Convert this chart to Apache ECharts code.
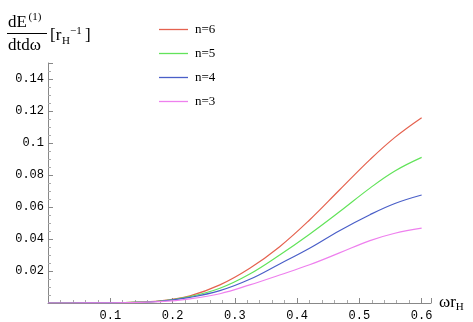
<!DOCTYPE html>
<html>
<head>
<meta charset="utf-8">
<script src="https://cdn.jsdelivr.net/npm/echarts@6/dist/echarts.min.js"></script>
<style>
  html, body { margin: 0; padding: 0; background: #fff; }
  #chart { width: 473px; height: 322px; }
</style>
</head>
<body>
<div id="chart"></div>
<script>
// omega * r_H sample points
var omega = [0, 0.036, 0.084, 0.132, 0.18, 0.228, 0.276, 0.324, 0.372, 0.42, 0.468, 0.517, 0.557, 0.6];
// dE/dtdw
var n6 = [0, 0, 0.0001, 0.0004, 0.0013, 0.0045, 0.0113, 0.0217, 0.0352, 0.0519, 0.0706, 0.0896, 0.1035, 0.1158];
var n5 = [0, 0, 0.0001, 0.0004, 0.0012, 0.004, 0.0092, 0.0181, 0.03, 0.043, 0.057, 0.0718, 0.0825, 0.091];
var n4 = [0, 0, 0.0001, 0.0003, 0.0011, 0.0035, 0.0077, 0.0148, 0.0244, 0.0342, 0.0452, 0.0552, 0.0622, 0.0675];
var n3 = [0, 0, 0.0001, 0.0002, 0.0008, 0.0026, 0.0058, 0.0113, 0.0175, 0.0239, 0.0313, 0.039, 0.0436, 0.0468];
var names = ['n=6', 'n=5', 'n=4', 'n=3'];
var colors = ['#e5624f', '#62e35a', '#4a5fc8', '#ee80ee'];

function pairs(ys) {
  var out = [];
  for (var i = 0; i < omega.length; i++) out.push([omega[i], ys[i]]);
  return out;
}

var allData = [n6, n5, n4, n3];
var series = [];
for (var k = 0; k < names.length; k++) {
  series.push({
    name: names[k],
    type: 'line',
    smooth: 0.4,
    symbol: 'none',
    data: pairs(allData[k]),
    lineStyle: { color: colors[k], width: 1.2 },
    itemStyle: { color: colors[k] }
  });
}

var mono = 'Liberation Mono';
var serif = 'Liberation Serif';

function txt(x, y, s, size) {
  return { type: 'text', x: x, y: y,
    style: { text: s, fontFamily: serif, fontSize: size, fill: '#000', verticalAlign: 'bottom' } };
}

var option = {
  animation: false,
  backgroundColor: '#fff',
  grid: { left: 48, right: 42, top: 63, bottom: 19, containLabel: false },
  legend: {
    orient: 'vertical',
    left: 154,
    top: 18,
    icon: 'rect',
    itemWidth: 29,
    itemHeight: 1.3,
    itemGap: 11,
    data: names,
    textStyle: { fontFamily: serif, fontSize: 13, color: '#000', padding: [0, 0, 0, 2] }
  },
  xAxis: {
    type: 'value',
    min: 0,
    max: 0.615,
    interval: 0.1,
    name: '{w|ωr}{s|H}',
    nameLocation: 'end',
    nameGap: 8,
    nameTextStyle: {
      rich: {
        w: { fontFamily: serif, fontSize: 17, color: '#000' },
        s: { fontFamily: serif, fontSize: 11, color: '#000', verticalAlign: 'bottom', padding: [8, 0, 0, 0] }
      }
    },
    axisLine: { show: true, lineStyle: { color: '#888', width: 1 } },
    axisTick: { show: true, inside: true, length: 5, lineStyle: { color: '#888' } },
    minorTick: { show: true, splitNumber: 5, length: 3, lineStyle: { color: '#aaa' } },
    splitLine: { show: false },
    axisLabel: {
      showMinLabel: false,
      showMaxLabel: false,
      fontFamily: mono, fontSize: 12, color: '#000', margin: 7
    }
  },
  yAxis: {
    type: 'value',
    min: 0,
    max: 0.15,
    interval: 0.02,
    axisLine: { show: true, lineStyle: { color: '#888', width: 1 } },
    axisTick: { show: true, inside: true, length: 5, lineStyle: { color: '#888' } },
    minorTick: { show: true, splitNumber: 4, length: 3, lineStyle: { color: '#aaa' } },
    splitLine: { show: false },
    axisLabel: {
      showMinLabel: false,
      showMaxLabel: false,
      fontFamily: mono, fontSize: 12, color: '#000', margin: 4,
      formatter: function (v) { return String(+v.toFixed(2)); }
    }
  },
  graphic: [
    txt(8, 31, 'dE', 17),
    txt(28.5, 23, '(1)', 11),
    { type: 'line', shape: { x1: 7, y1: 33.5, x2: 47, y2: 33.5 }, style: { stroke: '#000', lineWidth: 1 } },
    txt(8, 54, 'dtdω', 17),
    txt(50, 44, '[r', 17),
    txt(62, 47, 'H', 11),
    txt(70, 37, '−1', 11),
    txt(85, 44, ']', 17)
  ],
  series: series
};

var chart = echarts.init(document.getElementById('chart'));
chart.setOption(option);
</script>
</body>
</html>
